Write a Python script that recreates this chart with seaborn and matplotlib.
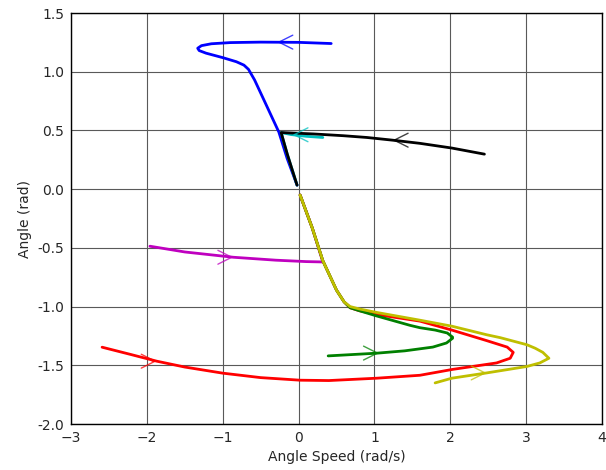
import matplotlib
matplotlib.use("Agg")
import matplotlib.pyplot as plt
import seaborn as sns
import pandas as pd

# Trajectories (angle speed, angle)
blue_x = [0.43, 0.0, -0.5, -0.9, -1.15, -1.28, -1.33, -1.31, -1.22, -1.0, -0.82, -0.72, -0.66, -0.58, -0.45, -0.26, -0.15, -0.02]
blue_y = [1.24, 1.25, 1.252, 1.248, 1.238, 1.222, 1.20, 1.18, 1.158, 1.12, 1.085, 1.056, 1.02, 0.93, 0.75, 0.486, 0.26, 0.034]

black_x = [2.45, 2.02, 1.6, 1.24, 0.9, 0.59, 0.2, -0.23, -0.15, -0.02]
black_y = [0.298, 0.35, 0.39, 0.417, 0.44, 0.455, 0.47, 0.482, 0.30, 0.034]

cyan_x = [0.32, 0.1, -0.1, -0.23, -0.15, -0.02]
cyan_y = [0.44, 0.45, 0.465, 0.482, 0.30, 0.034]

magenta_x = [-1.96, -1.5, -0.86, -0.3, 0.1, 0.32, 0.18, 0.02]
magenta_y = [-0.486, -0.535, -0.58, -0.605, -0.617, -0.62, -0.33, -0.05]

red_x = [-2.59, -2.2, -1.87, -1.5, -1.0, -0.5, 0.02, 0.4, 1.03, 1.6, 2.03, 2.61, 2.79, 2.83, 2.75, 2.48, 2.02, 1.6, 1.03, 0.8, 0.68, 0.6, 0.5, 0.32, 0.18, 0.02]
red_y = [-1.346, -1.41, -1.465, -1.515, -1.567, -1.605, -1.627, -1.63, -1.61, -1.585, -1.535, -1.48, -1.44, -1.39, -1.345, -1.29, -1.20, -1.124, -1.068, -1.035, -1.01, -0.96, -0.86, -0.61, -0.33, -0.05]

green_x = [0.39, 1.03, 1.4, 1.77, 1.95, 2.03, 2.03, 1.96, 1.8, 1.6, 1.47, 1.03, 0.8, 0.68, 0.6, 0.5, 0.32, 0.18, 0.02]
green_y = [-1.42, -1.397, -1.377, -1.345, -1.31, -1.27, -1.26, -1.225, -1.2, -1.18, -1.16, -1.08, -1.035, -1.01, -0.96, -0.86, -0.61, -0.33, -0.05]

yellow_x = [1.80, 2.02, 2.48, 3.01, 3.18, 3.30, 3.22, 3.12, 3.01, 2.66, 2.48, 2.02, 1.6, 1.03, 0.8, 0.68, 0.6, 0.5, 0.32, 0.18, 0.02]
yellow_y = [-1.65, -1.61, -1.565, -1.51, -1.48, -1.44, -1.39, -1.355, -1.325, -1.265, -1.24, -1.167, -1.116, -1.05, -1.02, -1.0, -0.96, -0.86, -0.61, -0.33, -0.05]

# arrow positions (color, x, y, direction)
arrows = [
    ("b", -0.28, 1.252, -1),
    ("k", 1.24, 0.417, -1),
    ("c", -0.08, 0.463, -1),
    ("m", -0.86, -0.58, 1),
    ("r", -1.87, -1.465, 1),
    ("g", 1.06, -1.396, 1),
    ("y", 2.48, -1.565, 1),
]

xticks = [-3, -2, -1, 0, 1, 2, 3, 4]
yticks = [-2.0, -1.5, -1.0, -0.5, 0.0, 0.5, 1.0, 1.5]

sns.set_style("white")
plt.rcParams["font.family"] = ["DejaVu Sans"]
fig = plt.figure(figsize=(6.06, 4.70), dpi=100)
ax = fig.add_axes([71 / 606, 1 - 424 / 470, (602 - 71) / 606, (424 - 13) / 470])

series = [
    (blue_x, blue_y, "b"),
    (magenta_x, magenta_y, "m"),
    (red_x, red_y, "r"),
    (green_x, green_y, "g"),
    (yellow_x, yellow_y, "y"),
    (cyan_x, cyan_y, "c"),
    (black_x, black_y, "k"),
]
colors = {"b": "#0000ff", "k": "#000000", "c": "#00bfbf", "m": "#bf00bf",
          "r": "#ff0000", "g": "#008000", "y": "#bfbf00"}

for xs, ys, c in series:
    df = pd.DataFrame({"x": xs, "y": ys})
    sns.lineplot(data=df, x="x", y="y", sort=False, estimator=None,
                 color=colors[c], linewidth=2.0, ax=ax)

for c, x, y, d in arrows:
    ax.annotate("", xy=(x, y), xytext=(x - d * 0.06, y),
                arrowprops=dict(arrowstyle="->", color=colors[c], lw=1.0,
                                alpha=0.75, mutation_scale=25, shrinkA=0, shrinkB=0))

ax.set_xlim(-3, 4)
ax.set_ylim(-2, 1.5)
ax.set_xticks(xticks)
ax.set_yticks(yticks)
ax.set_yticklabels([f"{v:.1f}" for v in yticks])
ax.grid(True, color="0.35", lw=0.8)
ax.set_axisbelow(True)
for s in ax.spines.values():
    s.set_color("black")
    s.set_linewidth(1.0)
ax.tick_params(axis="both", labelsize=10, length=0, pad=5)
ax.set_xlabel("Angle Speed (rad/s)", fontsize=10)
ax.set_ylabel("Angle (rad)", fontsize=10)

fig.savefig("out.png", dpi=100, facecolor="white")
